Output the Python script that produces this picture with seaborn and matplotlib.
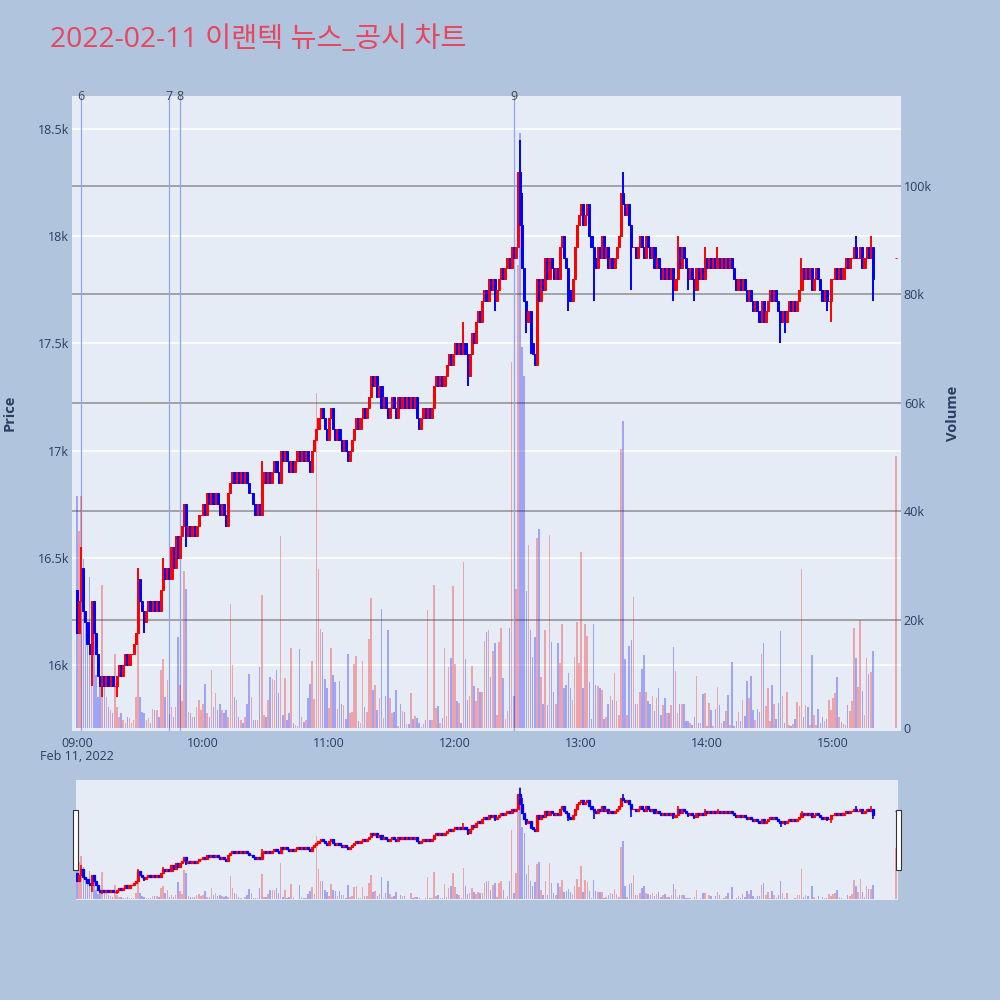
import numpy as np
import pandas as pd
import matplotlib
matplotlib.use("Agg")
import matplotlib.pyplot as plt
import matplotlib.transforms as mtrans
from matplotlib.patches import Rectangle
import seaborn as sns

title = "2022-02-11 이랜텍 뉴스_공시 차트"

# 1-minute closes, one list per hour (09:00 .. 15:19)
open_0900 = 16350
close_09h = [16150, 16300, 16450, 16250, 16200, 16100, 16050, 16300, 16150, 16050,
             15950, 15900, 15950, 15900, 15950, 15900, 15950, 15900, 15900, 15950,
             16000, 15950, 16000, 16050, 16000, 16050, 16050, 16100, 16150, 16400,
             16300, 16250, 16200, 16250, 16300, 16250, 16300, 16250, 16300, 16250,
             16350, 16450, 16400, 16450, 16400, 16550, 16450, 16600, 16500, 16600,
             16650, 16750, 16600, 16650, 16600, 16650, 16600, 16650, 16700, 16700]
close_10h = [16750, 16700, 16800, 16750, 16800, 16750, 16800, 16750, 16700, 16750,
             16700, 16650, 16800, 16850, 16900, 16850, 16900, 16850, 16900, 16850,
             16900, 16850, 16800, 16800, 16750, 16700, 16750, 16700, 16850, 16900,
             16850, 16900, 16850, 16900, 16950, 16900, 16850, 17000, 16950, 17000,
             16950, 16900, 16950, 16900, 16950, 17000, 16950, 17000, 16950, 17000,
             16950, 16900, 17000, 17050, 17100, 17150, 17200, 17150, 17100, 17050]
close_11h = [17150, 17200, 17100, 17050, 17100, 17050, 17000, 17050, 17000, 16950,
             17000, 17050, 17100, 17150, 17100, 17150, 17200, 17150, 17200, 17250,
             17350, 17300, 17350, 17250, 17300, 17200, 17250, 17200, 17150, 17200,
             17250, 17200, 17150, 17250, 17200, 17250, 17200, 17250, 17200, 17250,
             17200, 17250, 17150, 17100, 17150, 17200, 17150, 17200, 17150, 17200,
             17300, 17350, 17300, 17350, 17300, 17350, 17400, 17450, 17400, 17450]
close_12h = [17500, 17450, 17500, 17450, 17500, 17450, 17350, 17450, 17550, 17500,
             17600, 17650, 17600, 17700, 17750, 17700, 17800, 17750, 17800, 17700,
             17750, 17800, 17850, 17800, 17850, 17900, 17850, 17950, 17900, 17950,
             18300, 18050, 17850, 17700, 17600, 17650, 17500, 17450, 17400, 17800,
             17700, 17800, 17750, 17900, 17800, 17900, 17850, 17800, 17850, 17800,
             17950, 18000, 17900, 17850, 17750, 17700, 17800, 17950, 18050, 18100]
close_13h = [18150, 18050, 18100, 18150, 18000, 17950, 17900, 17850, 17950, 17900,
             18000, 17900, 17950, 17850, 17900, 17850, 17900, 17950, 18000, 18200,
             18150, 18100, 18150, 18050, 17950, 17950, 17900, 17950, 18000, 17950,
             17900, 18000, 17950, 17900, 17950, 17850, 17900, 17850, 17800, 17850,
             17800, 17850, 17800, 17850, 17750, 17800, 17950, 17850, 17950, 17900,
             17850, 17800, 17850, 17800, 17750, 17850, 17800, 17850, 17800, 17900]
close_14h = [17850, 17900, 17850, 17900, 17850, 17900, 17850, 17900, 17850, 17900,
             17850, 17900, 17850, 17800, 17750, 17800, 17750, 17800, 17750, 17700,
             17750, 17700, 17650, 17700, 17650, 17600, 17700, 17600, 17650, 17700,
             17750, 17700, 17750, 17700, 17650, 17600, 17650, 17600, 17650, 17700,
             17650, 17700, 17650, 17700, 17750, 17850, 17800, 17850, 17800, 17850,
             17750, 17800, 17850, 17800, 17750, 17700, 17750, 17700, 17700, 17800]
close_15h = [17800, 17850, 17800, 17850, 17800, 17850, 17900, 17850, 17900, 17900,
             17950, 17900, 17900, 17950, 17850, 17900, 17950, 17900, 17950, 17800]
close_1530 = 17900  # closing auction print

vol_09h = [42800, 36400, 42800, 31200, 19900, 16800, 27800, 16800, 23500, 9700,
           5700, 9100, 26300, 8800, 5800, 3900, 3300, 2700, 13700, 3900,
           2000, 2700, 1500, 1000, 2100, 1800, 1000, 1500, 5800, 29200,
           5800, 3000, 2700, 1500, 1800, 1000, 3600, 3300, 3300, 2000,
           10700, 12800, 5800, 8800, 2500, 3900, 2000, 3900, 16800, 7900,
           5000, 29000, 25700, 3000, 2700, 2100, 2000, 3900, 5100, 3300]
vol_10h = [4500, 8200, 2700, 2000, 10700, 3900, 6400, 3300, 4500, 3300,
           2700, 3300, 2000, 22900, 11600, 5800, 5100, 2100, 1500, 900,
           2000, 4500, 10000, 5800, 1500, 1500, 1500, 11300, 24600, 2400,
           2000, 5100, 9400, 9100, 8800, 10700, 6400, 35500, 2400, 9300,
           1500, 2800, 14700, 1000, 600, 300, 14500, 2100, 1200, 1500,
           5500, 8100, 12400, 5300, 61800, 29300, 18200, 17800, 9000, 7400]
vol_11h = [3700, 14800, 9700, 8500, 3500, 8600, 4500, 4300, 1700, 13700,
           2800, 2900, 11800, 13200, 1300, 1000, 12400, 3800, 2900, 16400,
           24000, 7100, 8000, 3400, 5500, 21900, 1800, 5900, 18000, 5500,
           2700, 2900, 7100, 400, 4400, 3100, 2900, 700, 700, 6400,
           1700, 2200, 1900, 1000, 200, 700, 1500, 21800, 1500, 1500,
           26300, 3700, 4000, 1000, 1800, 14800, 2200, 11200, 12900, 26200]
vol_12h = [11800, 5000, 4600, 1000, 30700, 12700, 5100, 5900, 11400, 7700,
           5000, 7400, 6700, 6600, 16000, 17700, 18100, 9500, 14200, 15600,
           2400, 15900, 18400, 9200, 1700, 3100, 18400, 67500, 5900, 25600,
           85400, 109700, 70300, 65000, 25200, 33800, 18100, 13100, 16700, 35000,
           36700, 9500, 4500, 18100, 4200, 35700, 15900, 6600, 4500, 15600,
           12000, 19100, 7300, 8000, 10200, 7300, 5200, 13100, 19500, 12000]
vol_13h = [32400, 7300, 19100, 17000, 8400, 1700, 19100, 8000, 7700, 7300,
           7000, 1700, 2000, 4500, 5900, 5200, 10200, 4900, 2400, 51400,
           56700, 12700, 2400, 15200, 16300, 24200, 4500, 4500, 6600, 10900,
           13500, 6600, 4900, 4500, 5900, 3100, 5600, 7300, 2400, 4200,
           5600, 2700, 2700, 4200, 14900, 10600, 2700, 4500, 4500, 4500,
           1300, 1300, 1000, 600, 2100, 9600, 900, 1000, 6300, 6400]
vol_14h = [400, 4700, 3300, 400, 3600, 7600, 4200, 900, 1300, 3200,
           6000, 600, 12100, 400, 1300, 3000, 1300, 5100, 2300, 8700,
           5600, 9600, 3300, 1500, 3600, 3000, 13700, 15700, 4100, 7300,
           1300, 7900, 4500, 1600, 4600, 17900, 5900, 1000, 6600, 500,
           400, 700, 1600, 4800, 4000, 29400, 2000, 4200, 3800, 600,
           13400, 2400, 600, 3600, 900, 2100, 1300, 1600, 5100, 3400]
vol_15h = [5500, 6500, 9400, 2000, 1200, 700, 600, 4300, 3100, 5000,
           18500, 12900, 7600, 20000, 6900, 2400, 12900, 10000, 10400, 14300]
vol_1530 = 50200

# wicks that reach past the candle body
high_wicks = {"09:02": 16550, "09:29": 16450, "09:41": 16500, "10:28": 16950,
              "12:04": 17600, "12:31": 18450, "12:32": 18200, "13:20": 18300,
              "13:46": 18000, "13:59": 17950, "14:05": 17950, "14:45": 17900,
              "15:11": 18000, "15:18": 18000}
low_wicks = {"09:07": 15900, "09:12": 15850, "09:19": 15850, "09:32": 16150,
             "09:52": 16550, "12:06": 17300, "12:19": 17650, "12:34": 17550,
             "12:36": 17450, "12:54": 17650, "13:06": 17700, "13:24": 17750,
             "13:44": 17700, "13:51": 17750, "13:54": 17700, "14:35": 17500,
             "14:37": 17550, "14:57": 17650, "14:59": 17600, "15:19": 17700}

news_marks = {"6": "09:02", "7": "09:44", "8": "09:49", "9": "12:28"}

price_ticks = [16000, 16500, 17000, 17500, 18000, 18500]
price_labels = ["16k", "16.5k", "17k", "17.5k", "18k", "18.5k"]
vol_ticks = [0, 20000, 40000, 60000, 80000, 100000]
vol_labels = ["0", "20k", "40k", "60k", "80k", "100k"]
hour_labels = ["09:00", "10:00", "11:00", "12:00", "13:00", "14:00", "15:00"]

BG = "#B0C4DE"
PLOT_BG = "#E5ECF6"
INK = "#2a3f5f"
UP, DOWN = "#FF0000", "#0000FF"

sns.set_theme(style="white", rc={"axes.facecolor": PLOT_BG, "figure.facecolor": BG})
plt.rcParams["font.family"] = ["Open Sans", "Noto Sans CJK KR", "DejaVu Sans"]

# ---- assemble the minute table
closes = close_09h + close_10h + close_11h + close_12h + close_13h + close_14h + close_15h
volumes = vol_09h + vol_10h + vol_11h + vol_12h + vol_13h + vol_14h + vol_15h
times = list(pd.date_range("2022-02-11 09:00", periods=len(closes), freq="min"))
times.append(pd.Timestamp("2022-02-11 15:30"))
df = pd.DataFrame({"time": times, "close": closes + [close_1530], "volume": volumes + [vol_1530]})
t0 = df.time.iloc[0]
df["x"] = (df.time - t0).dt.total_seconds() / 60
df["open"] = df.close.shift(1).fillna(open_0900)
df.loc[df.index[-1], "open"] = close_1530  # single-price auction
hhmm = df.time.dt.strftime("%H:%M")
df["high"] = np.maximum(df[["open", "close"]].max(axis=1), hhmm.map(high_wicks).fillna(0))
df["low"] = np.minimum(df[["open", "close"]].min(axis=1), hhmm.map(low_wicks).fillna(1e9))
df["up"] = df.close >= df.open
df["color"] = np.where(df.up, UP, DOWN)


def minutes(label):
    return (pd.Timestamp("2022-02-11 " + label) - t0).total_seconds() / 60


def draw_volume(ax, df):
    for up, col in [(True, UP), (False, DOWN)]:
        d = df[df.up == up]
        ax.bar(d.x, d.volume, width=0.75, color=col, alpha=0.3, lw=0, zorder=2)


def draw_candles(ax, df, wick_lw=1.4, edge_lw=0.7):
    ax.vlines(df.x, df.low, df.high, colors=df.color, lw=wick_lw, zorder=3)
    body_lo = df[["open", "close"]].min(axis=1)
    ax.bar(df.x, (df.close - df.open).abs(), bottom=body_lo, width=1.0,
           color=df.color, edgecolor=df.color, lw=edge_lw, zorder=3)


fig = plt.figure(figsize=(10, 10), dpi=100, facecolor=BG)

XLIM = (-2.38, 392.4)
PLIM = (15692, 18654)
VLIM = (-550, 116600)

# volume axis is the base layer, price axis on top
ax_v = fig.add_axes([0.072, 0.269, 0.829, 0.635])
ax_p = ax_v.twinx()
ax_v.set_facecolor(PLOT_BG)
for a in (ax_v, ax_p):
    a.set_xlim(*XLIM)
    sns.despine(ax=a, left=True, right=True, top=True, bottom=True)
ax_p.set_ylim(*PLIM)
ax_v.set_ylim(*VLIM)

# price grid (white) drawn on the base layer in price coordinates
price_tr = mtrans.blended_transform_factory(ax_v.transAxes, ax_p.transData)
for p in price_ticks:
    ax_v.plot([0, 1], [p, p], transform=price_tr, color="white", lw=1.1, zorder=0.5)
for v in vol_ticks[1:]:
    ax_v.axhline(v, color="#8f8f8f", lw=1.1, zorder=0.6)

# news markers
top_tr = mtrans.blended_transform_factory(ax_v.transData, ax_v.transAxes)
for label, t in news_marks.items():
    xm = minutes(t)
    ax_v.axvline(xm, color="#8FA6EE", lw=0.9, zorder=1.5)
    ax_v.text(xm, 0.999, label, transform=top_tr, ha="center", va="center",
              fontsize=9, color="#444444", zorder=5)

draw_volume(ax_v, df)
draw_candles(ax_p, df)

ax_p.yaxis.tick_left()
ax_p.set_yticks(price_ticks, price_labels)
ax_v.yaxis.tick_right()
ax_v.set_yticks(vol_ticks, vol_labels)
ax_v.set_xticks([minutes(h) for h in hour_labels], hour_labels)
ax_p.tick_params(axis="y", length=0, pad=2, labelsize=9, labelcolor=INK)
ax_v.tick_params(axis="y", length=0, pad=2, labelsize=9, labelcolor=INK)
ax_v.tick_params(axis="x", length=0, pad=4, labelsize=9, labelcolor=INK)
ax_p.tick_params(axis="x", length=0, labelbottom=False)
ax_p.grid(False)
ax_v.grid(False)

fig.text(0.077, 0.243, "Feb 11, 2022", ha="center", va="center", fontsize=9, color=INK)
fig.text(0.010, 0.587, "Price", rotation=90, ha="center", va="center",
         fontsize=10.5, fontweight="bold", color=INK)
fig.text(0.953, 0.587, "Volume", rotation=90, ha="center", va="center",
         fontsize=10.5, fontweight="bold", color=INK)
fig.text(0.050, 0.960, title, ha="left", va="center", fontsize=20.4, color="#E8455E")

# ---- range slider (mini copy of the whole session)
rs_v = fig.add_axes([0.076, 0.100, 0.822, 0.120])
rs_p = rs_v.twinx()
rs_v.set_facecolor(PLOT_BG)
for a in (rs_v, rs_p):
    a.set_xlim(-0.48, 390.95)
    a.set_xticks([])
    a.set_yticks([])
    a.grid(False)
    sns.despine(ax=a, left=True, right=True, top=True, bottom=True)
rs_p.set_ylim(*PLIM)
rs_v.set_ylim(*VLIM)
draw_volume(rs_v, df)
draw_candles(rs_p, df, wick_lw=1.2, edge_lw=0.9)

for x0 in (0.0725, 0.8955):
    fig.patches.append(Rectangle((x0, 0.130), 0.005, 0.060, transform=fig.transFigure,
                                 facecolor="white", edgecolor="#333333", lw=0.8))

fig.savefig("out.png", dpi=100, facecolor=BG)
